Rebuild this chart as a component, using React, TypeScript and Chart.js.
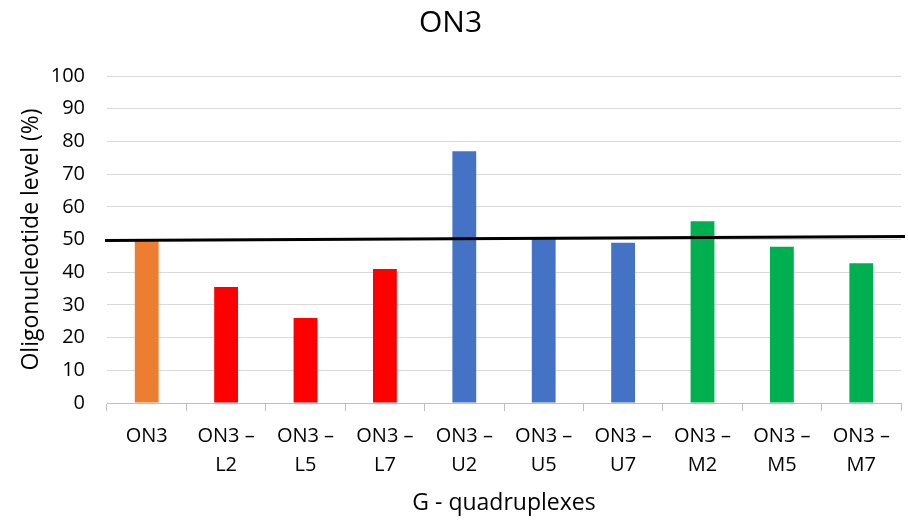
import React, { useEffect, useRef } from "react";
import { Chart, registerables } from "chart.js";

Chart.register(...registerables);

const categories: string[][] = [
  ["ON3"],
  ["ON3 –", "L2"],
  ["ON3 –", "L5"],
  ["ON3 –", "L7"],
  ["ON3 –", "U2"],
  ["ON3 –", "U5"],
  ["ON3 –", "U7"],
  ["ON3 –", "M2"],
  ["ON3 –", "M5"],
  ["ON3 –", "M7"],
];
const levels = [49.5, 35.5, 26, 41, 77, 50.5, 49, 55.6, 47.8, 42.7];
const barColors = [
  "#ED7D31",
  "#FF0000",
  "#FF0000",
  "#FF0000",
  "#4472C4",
  "#4472C4",
  "#4472C4",
  "#00B050",
  "#00B050",
  "#00B050",
];
const refLineX = [0, 1];
const refLineY = [49.7, 50.9];
const yTicks = [0, 10, 20, 30, 40, 50, 60, 70, 80, 90, 100];

const FONT = "'Open Sans', Lato, sans-serif";

export default function App() {
  const ref = useRef<HTMLCanvasElement | null>(null);
  useEffect(() => {
    document.body.style.margin = "0";
    const ctx = ref.current!;
    const chart = new Chart(ctx, {
      type: "bar",
      data: {
        labels: categories as any,
        datasets: [
          {
            type: "bar",
            data: levels,
            backgroundColor: barColors,
            barPercentage: 0.6,
            categoryPercentage: 0.5,
            grouped: false,
            xAxisID: "x",
            order: 2,
          } as any,
          {
            type: "line",
            data: refLineX.map((x, i) => ({ x, y: refLineY[i] })),
            borderColor: "#000000",
            borderWidth: 3,
            pointRadius: 0,
            xAxisID: "x2",
            clip: false,
            order: 1,
          } as any,
        ],
      },
      options: {
        animation: false,
        responsive: false,
        maintainAspectRatio: false,
        layout: { padding: { left: 0, right: 7, top: 0, bottom: 0 } },
        plugins: {
          legend: { display: false },
          tooltip: { enabled: false },
          title: {
            display: true,
            text: "ON3",
            color: "#000000",
            font: { family: FONT, size: 30, weight: "normal" },
            padding: { top: 5, bottom: 35 },
          },
        },
        scales: {
          x: {
            type: "category",
            offset: true,
            grid: {
              display: true,
              drawOnChartArea: false,
              drawTicks: true,
              tickLength: 8,
              color: "#BFBFBF",
              offset: true,
            },
            border: { display: true, color: "#BFBFBF", width: 1 },
            ticks: {
              color: "#000000",
              font: { family: FONT, size: 20, lineHeight: 1.43 },
              padding: 11,
              maxRotation: 0,
              autoSkip: false,
            },
            title: {
              display: true,
              text: "G - quadruplexes",
              color: "#000000",
              font: { family: FONT, size: 23 },
              padding: { top: 0, bottom: 3 },
            },
            afterFit: (s: any) => {
              s.height = 117;
            },
          },
          x2: {
            type: "linear",
            display: false,
            offset: false,
            min: 0.0025,
            max: 0.995,
            grid: { offset: false },
          },
          y: {
            min: 0,
            max: 100,
            afterBuildTicks: (s: any) => {
              s.ticks = yTicks.map((v) => ({ value: v }));
            },
            grid: { color: "#D9D9D9", drawTicks: false, lineWidth: 1 },
            border: { display: false },
            ticks: {
              color: "#000000",
              font: { family: FONT, size: 20 },
              padding: 22,
            },
            title: {
              display: true,
              text: "Oligonucleotide level (%)",
              color: "#000000",
              font: { family: FONT, size: 23 },
              padding: { top: 18, bottom: 0 },
            },
            afterFit: (s: any) => {
              s.width = 107;
            },
          },
        },
      },
    });
    return () => chart.destroy();
  }, []);
  return (
    <div style={{ position: "fixed", left: 0, top: 0, width: 908, height: 520, background: "#fff" }}>
      <canvas ref={ref} width={908} height={520} style={{ width: 908, height: 520 }} />
    </div>
  );
}
